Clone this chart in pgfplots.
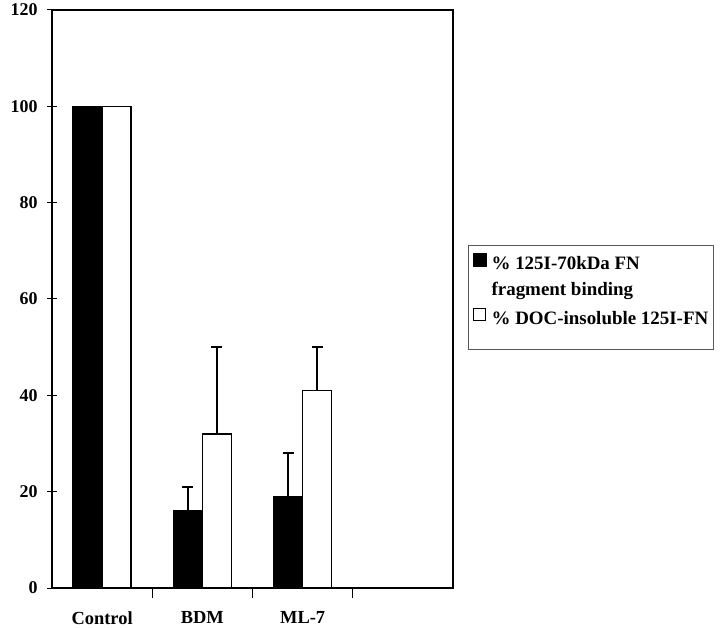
\documentclass[border=0pt]{standalone}
\usepackage{pgfplots}
\pgfplotsset{compat=1.18}
\usepackage{fontspec}
\setmainfont{Liberation Serif}
\begin{document}
\begin{tikzpicture}
\begin{axis}[
  at={(0,0)}, anchor=south west,
  scale only axis,
  width=401bp, height=578bp,
  xmin=0, xmax=4, ymin=0, ymax=120,
  axis line style={line width=1.6bp},
  xtick={0.5,1.5,2.5},
  xticklabels={Control,BDM,ML-7},
  major x tick style={draw=none},
  minor xtick={1,2,3},
  minor tick length=10bp,
  ytick={0,20,...,120},
  major tick length=10bp,
  tick align=center,
  tick style={line width=1bp, black},
  xtick pos=bottom, ytick pos=left,
  xticklabel style={font=\fontsize{18.5}{20}\selectfont\bfseries, yshift=-10bp},
  yticklabel style={font=\fontsize{18}{20}\selectfont\bfseries, xshift=-6bp},
  /pgf/number format/assume math mode=true,
  ybar, bar width=0.29,
  legend style={draw=none, fill=none, at={(1.0499,0.58)}, anchor=north west,
    font=\fontsize{19}{21}\selectfont\bfseries, row sep=7bp,
    nodes={inner sep=0pt, text height=14bp, text depth=5bp},
    column sep=5bp,
    inner sep=0pt},
  legend cell align=left,
  clip=false,
]
\addplot[fill=black, draw=black, line width=1.5bp, bar shift=-0.145, forget plot]
  coordinates {(0.5,100)};
\addplot[fill=white, draw=black, line width=1.5bp, bar shift=0.145, forget plot]
  coordinates {(0.5,100)};
\addplot[fill=black, draw=black, line width=1.5bp, bar shift=-0.145, forget plot,
  error bars/.cd, y dir=plus, y explicit,
  error bar style={line width=1.5bp, black},
  error mark options={rotate=90, mark size=5.5bp, line width=2bp}]
  coordinates {(1.5,16) +- (0,5) (2.5,19) +- (0,9)};
\addplot[fill=white, draw=black, line width=1.5bp, bar shift=0.145, forget plot,
  error bars/.cd, y dir=plus, y explicit,
  error bar style={line width=1.5bp, black},
  error mark options={rotate=90, mark size=5.5bp, line width=2bp}]
  coordinates {(1.5,32) +- (0,18) (2.5,41) +- (0,9)};
\addlegendimage{legend image code/.code={\fill[black] (0bp,-1bp) rectangle (13bp,12bp);}}
\addlegendentry{\% 125I-70kDa FN}
\addlegendimage{empty legend}
\addlegendentry{fragment binding}
\addlegendimage{legend image code/.code={\filldraw[fill=white, draw=black, line width=1bp] (0.5bp,-0.5bp) rectangle (12.5bp,11.5bp);}}
\addlegendentry{\% DOC-insoluble 125I-FN}
\draw[gray!70!black, line width=0.6bp] (axis description cs:1.0374,0.4135) rectangle (axis description cs:1.648,0.5934);
\end{axis}
\path[use as bounding box] (-52bp,-39bp) rectangle (668bp,588bp);
\end{tikzpicture}
\end{document}
